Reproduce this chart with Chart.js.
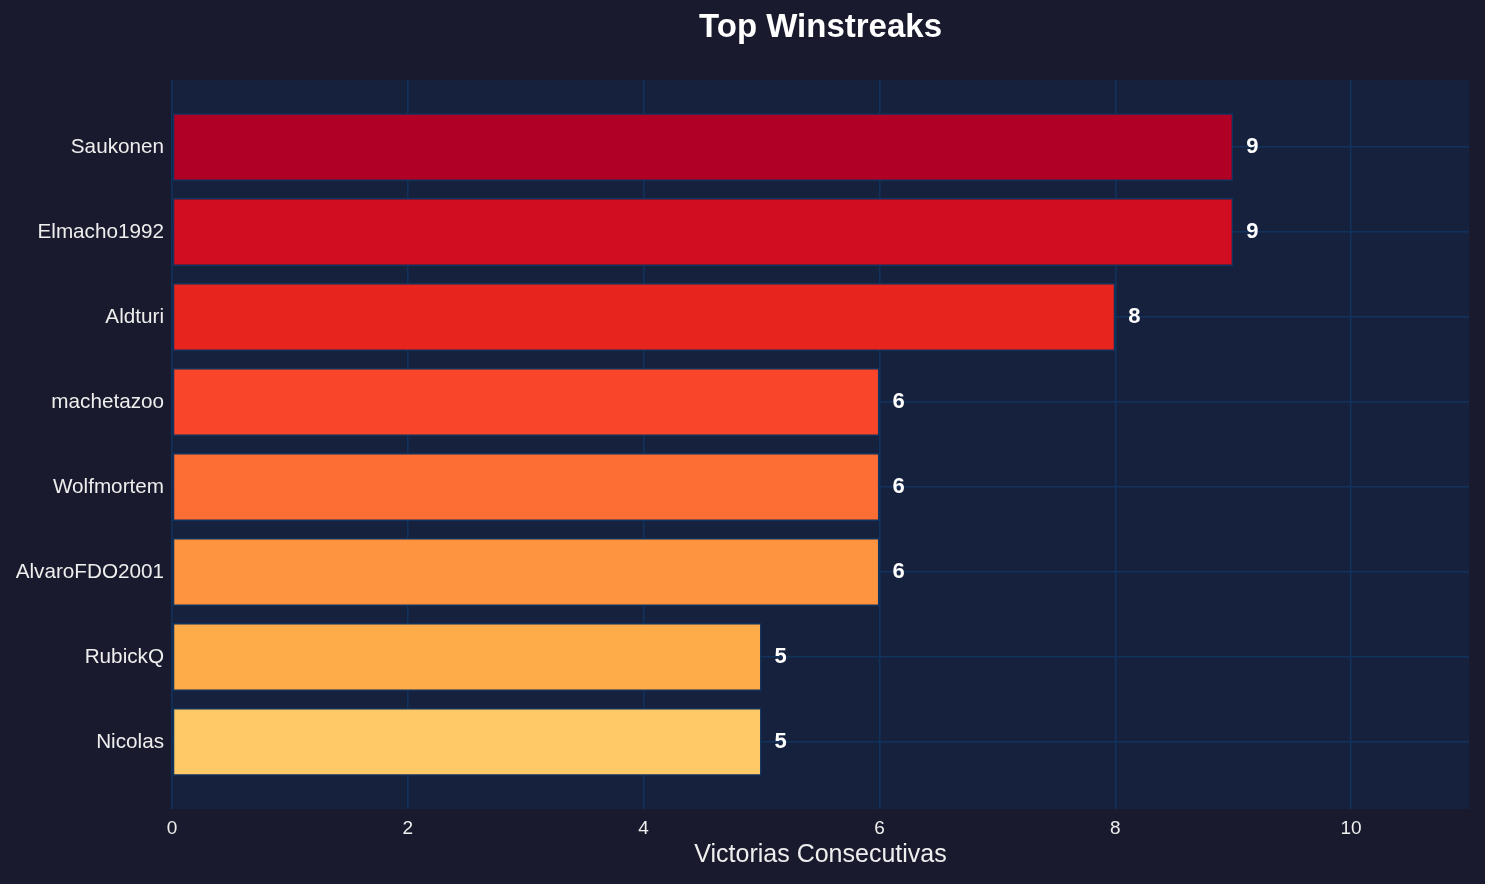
<!DOCTYPE html>
<html>
<head>
<meta charset="utf-8">
<script src="https://cdn.jsdelivr.net/npm/chart.js@4/dist/chart.umd.min.js"></script>
<style>
  html, body { margin: 0; padding: 0; background: #1a1a2e; }
  #wrap { width: 1485px; height: 884px; }
</style>
</head>
<body>
<div id="wrap"><canvas id="grafico"></canvas></div>
<script>
const jugadores = ['Saukonen', 'Elmacho1992', 'Aldturi', 'machetazoo', 'Wolfmortem', 'AlvaroFDO2001', 'RubickQ', 'Nicolas'];
const rachas = [9, 9, 8, 6, 6, 6, 5, 5];
const colores = ['#b10026', '#d00d21', '#e8241f', '#f9452a', '#fd6e35', '#fe9440', '#feac4a', '#fec966'];
const xTicks = [0, 2, 4, 6, 8, 10];
const titulo = 'Top Winstreaks';

const fuente = '"Liberation Sans", Arial, sans-serif';

// fondo del area de dibujo + titulo centrado sobre el area
const fondoPlot = {
  id: 'fondoPlot',
  beforeDraw(chart) {
    const { ctx, chartArea: a } = chart;
    ctx.save();
    ctx.fillStyle = '#16213e';
    ctx.fillRect(a.left, a.top, a.right - a.left, a.bottom - a.top);
    ctx.fillStyle = '#ffffff';
    ctx.font = 'bold 33px ' + fuente;
    ctx.textAlign = 'center';
    ctx.textBaseline = 'middle';
    ctx.fillText(titulo, (a.left + a.right) / 2, 28);
    ctx.restore();
  }
};

const etiquetas = {
  id: 'etiquetas',
  afterDatasetsDraw(chart) {
    const ctx = chart.ctx;
    const meta = chart.getDatasetMeta(0);
    ctx.save();
    ctx.fillStyle = '#ffffff';
    ctx.font = 'bold 22px ' + fuente;
    ctx.textAlign = 'left';
    ctx.textBaseline = 'middle';
    meta.data.forEach((bar, i) => {
      ctx.fillText(String(rachas[i]), bar.x + 13, bar.y);
    });
    ctx.restore();
  }
};

new Chart(document.getElementById('grafico'), {
  type: 'bar',
  data: {
    datasets: [{
      data: rachas.map((v, i) => ({ x: v, y: i })),
      backgroundColor: colores,
      borderColor: '#0f3460',
      borderWidth: 1.5,
      borderSkipped: false,
      barPercentage: 0.8,
      categoryPercentage: 1
    }]
  },
  options: {
    indexAxis: 'y',
    responsive: true,
    maintainAspectRatio: false,
    animation: false,
    layout: { padding: { left: 0, right: 16, top: 80, bottom: 0 } },
    plugins: {
      legend: { display: false },
      tooltip: { enabled: false },
      title: { display: false }
    },
    scales: {
      x: {
        type: 'linear',
        min: 0,
        max: 11,
        afterBuildTicks: scale => { scale.ticks = xTicks.map(v => ({ value: v })); },
        afterFit: scale => { scale.height = 75; },
        border: { display: false },
        grid: { color: 'rgba(15,52,96,0.9)', lineWidth: 1.5, drawTicks: false },
        ticks: {
          color: '#eeeeee',
          padding: 8,
          font: { family: fuente, size: 19 }
        },
        title: {
          display: true,
          text: 'Victorias Consecutivas',
          color: '#eeeeee',
          padding: { top: 4, bottom: 14 },
          font: { family: fuente, size: 25 }
        }
      },
      y: {
        type: 'linear',
        reverse: true,
        offset: false,
        min: -0.79,
        max: 7.79,
        afterBuildTicks: scale => { scale.ticks = jugadores.map((_, i) => ({ value: i })); },
        afterFit: scale => { scale.width = 172; },
        border: { display: false },
        grid: { color: 'rgba(15,52,96,0.9)', lineWidth: 1.5, drawTicks: false, offset: false },
        ticks: {
          color: '#eeeeee',
          padding: 8,
          font: { family: fuente, size: 20.7 },
          callback: v => jugadores[v]
        }
      }
    }
  },
  plugins: [fondoPlot, etiquetas]
});
</script>
</body>
</html>
